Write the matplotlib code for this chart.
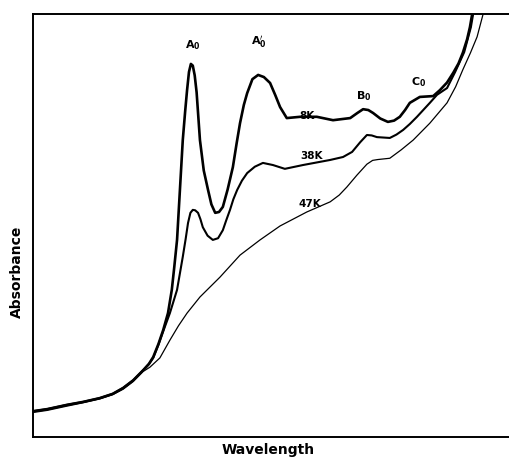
import numpy as np
from matplotlib import pyplot as plt

# absorption spectra at three temperatures (arbitrary units, 0-100 on both axes)
tail_x = [0, 3.0, 7.1, 10.5, 14.0, 16.7, 18.9, 21.0, 23.1]
tail_y = [6.1, 6.6, 7.6, 8.3, 9.2, 10.2, 11.6, 13.4, 15.8]

x_8k = tail_x + [24.3, 25.2, 26.3, 27.3, 28.3, 29.1, 29.6, 30.2, 30.8, 31.4, 31.9, 32.3,
                 32.7, 33.1, 33.5, 33.9, 34.3, 35.0, 35.8, 36.7, 37.4, 38.2, 39.0, 39.8,
                 40.8, 41.9, 42.7, 43.4, 44.2, 44.9, 46.0, 47.2, 48.4, 49.7, 50.8, 51.8,
                 53.2, 56.0, 59.5, 62.9, 66.5, 68.0, 69.2, 70.3, 71.3, 72.8, 74.4, 75.7,
                 76.9, 78.0, 79.0, 81.1, 83.9, 85.3, 86.8, 88.1, 89.2, 90.1, 91.0, 91.6,
                 92.3]
y_8k = tail_y + [17.3, 18.9, 22.0, 25.3, 29.3, 34.8, 40.0, 46.6, 58.4, 70.2, 77.0, 82.0,
                 86.3, 88.2, 87.8, 85.5, 81.5, 70.2, 63.0, 58.4, 55.0, 53.0, 53.2, 54.4,
                 58.5, 63.8, 69.5, 74.2, 78.5, 81.3, 84.6, 85.6, 85.1, 83.7, 80.8, 78.0,
                 75.4, 75.7, 75.7, 74.9, 75.4, 76.6, 77.5, 77.3, 76.6, 75.3, 74.5, 74.8,
                 75.7, 77.3, 79.0, 80.4, 80.6, 82.0, 83.8, 86.1, 88.3, 90.8, 94.0, 96.9,
                 101.5]

x_38k = tail_x + [24.3, 25.2, 26.3, 27.3, 28.7, 30.2, 31.4, 32.0, 32.5, 33.0, 33.5, 34.0,
                  34.6, 35.1, 35.6, 36.6, 37.7, 38.8, 39.8, 40.5, 41.3, 42.0, 42.8, 43.8,
                  44.9, 46.5, 48.2, 50.3, 52.8, 56.6, 62.3, 65.0, 66.9, 68.6, 70.0, 71.0,
                  72.1, 74.8, 76.2, 77.6, 79.0, 80.5, 83.2, 84.7, 86.8, 88.5, 90.4, 91.8,
                  92.5]
y_38k = tail_y + [17.2, 18.7, 21.8, 25.0, 29.3, 34.8, 42.6, 46.8, 50.6, 53.0, 53.7, 53.6,
                  53.0, 51.5, 49.6, 47.6, 46.6, 47.0, 48.9, 51.2, 53.7, 56.2, 58.4, 60.6,
                  62.4, 63.9, 64.8, 64.3, 63.4, 64.3, 65.5, 66.2, 67.4, 69.7, 71.4, 71.3,
                  70.9, 70.7, 71.5, 72.6, 74.0, 75.7, 79.0, 80.9, 82.5, 86.3, 91.0, 96.9,
                  101.5]

x_47k = [0, 3.0, 7.1, 10.5, 14.0, 16.7, 18.9, 21.0, 23.1, 24.5, 26.6, 28.7, 30.5, 32.3,
         35.0, 39.2, 43.4, 47.6, 51.8, 57.4, 62.3, 64.2, 65.8, 67.9, 70.0, 71.2, 72.3,
         74.8, 77.2, 79.7, 83.2, 86.8, 88.6, 90.1, 91.7, 93.1, 94.6]
y_47k = [5.8, 6.3, 7.3, 8.1, 9.0, 10.0, 11.3, 13.1, 15.5, 16.5, 18.7, 22.9, 26.3, 29.3,
         33.1, 37.8, 43.0, 46.6, 49.9, 53.2, 55.6, 57.2, 59.1, 61.9, 64.5, 65.4, 65.6,
         65.9, 67.9, 70.2, 74.2, 79.0, 82.8, 86.8, 90.8, 94.6, 101.0]

curve_labels = ['8K', '38K', '47K']
curve_label_xy = [(57.5, 76.0), (58.5, 66.5), (58.0, 55.0)]
peak_labels = [r'A$_\mathregular{0}$', r'A$_\mathregular{0}^{\prime}$',
               r'B$_\mathregular{0}$', r'C$_\mathregular{0}$']
peak_label_xy = [(33.5, 92.7), (47.3, 93.3), (69.3, 80.5), (80.8, 84.0)]

fig = plt.figure(figsize=(5.10, 4.61), dpi=100)
ax = fig.add_axes([0.0647, 0.052, 0.9353, 0.9176])

style = dict(color='black', solid_capstyle='round', solid_joinstyle='round')
ax.plot(x_8k, y_8k, lw=1.9, **style)
ax.plot(x_38k, y_38k, lw=1.5, **style)
ax.plot(x_47k, y_47k, lw=0.9, **style)

for lab, (lx, ly) in zip(curve_labels, curve_label_xy):
    ax.text(lx, ly, lab, fontsize=7.5, fontweight='bold', ha='center', va='center')
for lab, (lx, ly) in zip(peak_labels, peak_label_xy):
    ax.text(lx, ly, lab, fontsize=8, fontweight='bold', ha='center', va='center')

ax.set_xlim(0, 100)
ax.set_ylim(0, 100)
ax.set_xticks([])
ax.set_yticks([])
ax.spines['right'].set_visible(False)
for s in ['left', 'top', 'bottom']:
    ax.spines[s].set_linewidth(1.4)

fig.text(0.526, 0.024, 'Wavelength', fontsize=10, fontweight='bold', ha='center', va='center')
fig.text(0.033, 0.41, 'Absorbance', fontsize=10, fontweight='bold', ha='center', va='center',
         rotation=90)

plt.savefig('out.png', dpi=100)
plt.close()
